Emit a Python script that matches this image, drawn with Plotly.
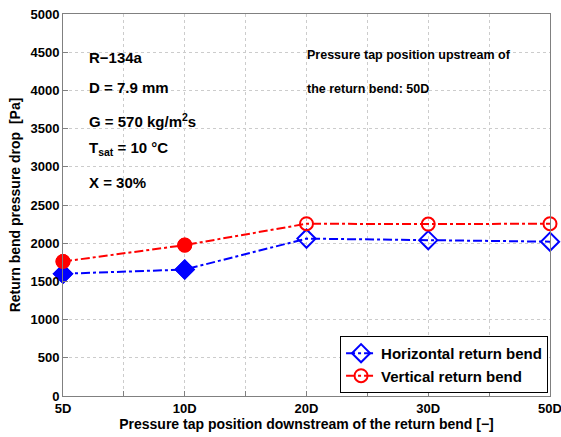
import plotly.graph_objects as go

categories = ["5D", "10D", "20D", "30D", "50D"]
horizontal = [1600, 1655, 2060, 2040, 2020]
vertical = [1760, 1975, 2255, 2250, 2255]
filled_count = 2

xpos = list(range(len(categories)))
FONT = "Liberation Sans, Arial, sans-serif"

fig = go.Figure()
fig.add_trace(go.Scatter(
    x=xpos, y=horizontal, mode="lines+markers", name="<b>Horizontal return bend</b>",
    line=dict(color="#0000ff", width=2, dash="dashdot"),
    marker=dict(symbol="diamond-open", size=14, color="#0000ff", line=dict(width=2, color="#0000ff")),
    cliponaxis=False,
))
fig.add_trace(go.Scatter(
    x=xpos, y=vertical, mode="lines+markers", name="<b>Vertical return bend</b>",
    line=dict(color="#ff0000", width=2, dash="dashdot"),
    marker=dict(symbol="circle-open", size=13, color="#ff0000", line=dict(width=2, color="#ff0000")),
    cliponaxis=False,
))
fig.add_trace(go.Scatter(
    x=xpos[:filled_count], y=horizontal[:filled_count], mode="markers", showlegend=False,
    marker=dict(symbol="diamond", size=15, color="#0000ff", line=dict(width=1, color="#0000ff")),
    cliponaxis=False,
))
fig.add_trace(go.Scatter(
    x=xpos[:filled_count], y=vertical[:filled_count], mode="markers", showlegend=False,
    marker=dict(symbol="circle", size=14, color="#ff0000", line=dict(width=1, color="#ff0000")),
    cliponaxis=False,
))

half_vals = [i * 0.5 for i in range(2 * len(categories) - 1)]
half_text = [categories[int(v)] if v == int(v) else "" for v in half_vals]

fig.update_layout(
    width=561, height=437,
    margin=dict(l=63, r=11, t=14, b=41),
    paper_bgcolor="white", plot_bgcolor="white",
    font=dict(family=FONT, size=13, color="black"),
    showlegend=True,
    legend=dict(x=0.996, y=0.008, xanchor="right", yanchor="bottom",
                bgcolor="white", bordercolor="black", borderwidth=1,
                font=dict(family=FONT, size=15, color="black"),
                tracegroupgap=0, itemwidth=30),
    xaxis=dict(range=[0, len(categories) - 1], tickvals=half_vals, ticktext=half_text,
               tickfont=dict(family=FONT, size=13, weight="bold"), automargin=False,
               ticklabeloverflow="allow",
               showgrid=True, gridcolor="#cccccc", griddash="dot", gridwidth=1,
               showline=True, linecolor="#808080", linewidth=1, mirror=True,
               ticks="inside", ticklen=5, tickcolor="#808080", zeroline=False,
               title=dict(text="Pressure tap position downstream of the return bend [\u2212]",
                          font=dict(family=FONT, size=14, weight="bold"), standoff=2)),
    yaxis=dict(range=[0, 5000], dtick=500, tick0=0, automargin=False,
               ticklabeloverflow="allow",
               tickfont=dict(family=FONT, size=13, weight="bold"),
               showgrid=True, gridcolor="#cccccc", griddash="dot", gridwidth=1,
               showline=True, linecolor="#808080", linewidth=1, mirror=True,
               ticks="inside", ticklen=5, tickcolor="#808080", zeroline=False,
               title=dict(text="Return bend pressure drop  [Pa]",
                          font=dict(family=FONT, size=14, weight="bold"), standoff=6)),
)

left_notes = [
    ("R\u2212134a", 4430),
    ("D = 7.9 mm", 4040),
    ("G = 570 kg/m<sup>2</sup>s", 3600),
    ("T<sub>sat</sub> = 10 \u00b0C", 3240),
    ("X = 30%", 2790),
]
for txt, yv in left_notes:
    fig.add_annotation(x=0.2, y=yv, xref="x", yref="y", text="<b>" + txt + "</b>",
                       showarrow=False, xanchor="left", yanchor="middle",
                       font=dict(family=FONT, size=15, color="black"))

right_notes = [
    ("Pressure tap position upstream of", 4460),
    ("the return bend: 50D", 4020),
]
for txt, yv in right_notes:
    fig.add_annotation(x=1.99, y=yv, xref="x", yref="y", text="<b>" + txt + "</b>",
                       showarrow=False, xanchor="left", yanchor="middle",
                       font=dict(family=FONT, size=12.5, color="black"))

fig.write_html("out.html")
